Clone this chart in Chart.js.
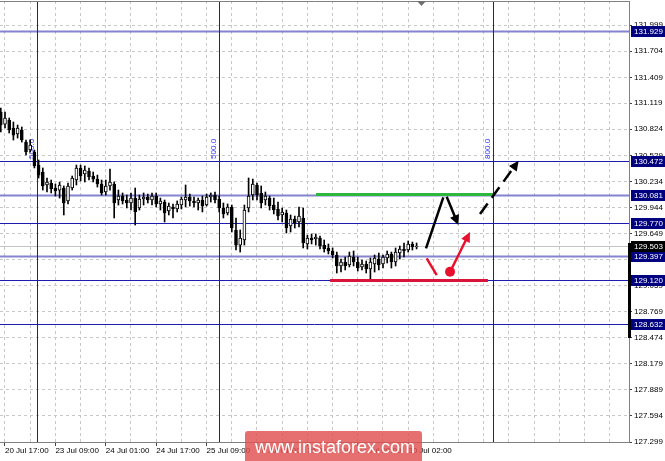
<!DOCTYPE html>
<html lang="en">
<head>
    <meta charset="UTF-8">
    <title>USDJPY H1</title>
    <script src="https://cdn.jsdelivr.net/npm/chart.js"></script>
    <style>
        html, body { margin: 0; padding: 0; background: #fff; }
        #wrap { width: 665px; height: 461px; position: relative; }
    </style>
</head>
<body>
<div id="wrap"><canvas id="priceChart"></canvas></div>
<script>
    // hourly candles, oldest first
    const opens = [
        131.019, 130.883, 130.928, 130.838, 130.771, 130.816, 130.680, 130.590, 130.568, 130.421,
        130.342, 130.196, 130.218, 130.162, 130.139, 130.162, 130.016, 130.162, 130.252, 130.388,
        130.320, 130.354, 130.297, 130.263, 130.207, 130.117, 130.185, 130.207, 130.027, 130.072,
        130.027, 129.993, 130.049, 129.937, 130.038, 130.061, 130.027, 130.072, 129.982, 130.004,
        129.903, 129.948, 129.925, 129.970, 130.027, 130.061, 130.016, 129.993, 130.027, 129.970,
        130.061, 130.083, 130.038, 129.937, 129.880, 129.948, 129.689, 129.519, 129.576, 129.937,
        130.083, 130.196, 130.106, 130.027, 130.049, 129.970, 129.925, 129.858, 129.880, 129.734,
        129.813, 129.779, 129.824, 129.531, 129.598, 129.587, 129.598, 129.519, 129.486, 129.452,
        129.407, 129.283, 129.328, 129.294, 129.384, 129.328, 129.272, 129.305, 129.249, 129.305,
        129.362, 129.305, 129.373, 129.418, 129.328, 129.429, 129.475, 129.463, 129.531, 129.497
    ];
    const highs = [
        131.064, 131.019, 130.951, 130.906, 130.872, 130.850, 130.703, 130.703, 130.590, 130.478,
        130.388, 130.275, 130.252, 130.207, 130.230, 130.185, 130.218, 130.297, 130.421, 130.421,
        130.410, 130.388, 130.342, 130.308, 130.252, 130.252, 130.376, 130.230, 130.139, 130.106,
        130.083, 130.106, 130.162, 130.083, 130.106, 130.094, 130.106, 130.106, 130.049, 130.027,
        129.993, 129.982, 130.016, 130.061, 130.196, 130.094, 130.061, 130.049, 130.072, 130.094,
        130.106, 130.117, 130.072, 129.993, 129.982, 129.970, 129.824, 129.689, 129.970, 130.275,
        130.263, 130.218, 130.185, 130.117, 130.072, 130.049, 130.004, 129.937, 129.914, 129.858,
        129.846, 129.948, 129.937, 129.632, 129.644, 129.644, 129.621, 129.576, 129.531, 129.486,
        129.440, 129.362, 129.384, 129.440, 129.452, 129.384, 129.350, 129.339, 129.373, 129.407,
        129.429, 129.407, 129.452, 129.440, 129.486, 129.508, 129.542, 129.565, 129.553, 129.542
    ];
    const lows = [
        130.793, 130.838, 130.782, 130.703, 130.725, 130.680, 130.534, 130.568, 130.388, 130.275,
        130.139, 130.117, 130.106, 130.072, 130.049, 129.858, 129.982, 130.139, 130.196, 130.241,
        130.230, 130.252, 130.230, 130.173, 130.083, 130.083, 130.139, 129.824, 129.970, 129.982,
        129.937, 129.914, 129.745, 129.914, 129.970, 129.993, 129.970, 129.948, 129.914, 129.779,
        129.858, 129.824, 129.892, 129.925, 129.948, 129.959, 129.948, 129.914, 129.892, 129.959,
        130.004, 129.993, 129.892, 129.824, 129.858, 129.666, 129.463, 129.440, 129.519, 129.892,
        130.027, 130.027, 129.937, 129.970, 129.914, 129.869, 129.801, 129.779, 129.655, 129.666,
        129.711, 129.722, 129.486, 129.475, 129.531, 129.519, 129.475, 129.440, 129.418, 129.373,
        129.204, 129.215, 129.238, 129.272, 129.283, 129.227, 129.238, 129.204, 129.136, 129.215,
        129.238, 129.260, 129.317, 129.260, 129.283, 129.362, 129.384, 129.440, 129.463, 129.475
    ];
    const closes = [
        130.872, 130.951, 130.816, 130.759, 130.838, 130.703, 130.568, 130.647, 130.410, 130.308,
        130.185, 130.230, 130.151, 130.128, 130.196, 129.993, 130.185, 130.275, 130.388, 130.297,
        130.365, 130.286, 130.263, 130.207, 130.106, 130.185, 130.230, 129.993, 130.072, 130.016,
        129.993, 130.049, 129.892, 130.038, 130.061, 130.027, 130.072, 129.982, 130.016, 129.880,
        129.959, 129.925, 129.982, 130.038, 130.061, 130.016, 129.993, 130.027, 129.959, 130.061,
        130.083, 130.027, 129.937, 129.869, 129.948, 129.711, 129.519, 129.598, 129.914, 130.072,
        130.207, 130.083, 129.993, 130.072, 129.959, 129.914, 129.846, 129.892, 129.711, 129.813,
        129.768, 129.846, 129.542, 129.598, 129.576, 129.610, 129.508, 129.475, 129.452, 129.407,
        129.283, 129.328, 129.283, 129.396, 129.328, 129.260, 129.305, 129.249, 129.328, 129.373,
        129.294, 129.384, 129.418, 129.328, 129.440, 129.475, 129.452, 129.531, 129.497, 129.503
    ];

    // axis labels
    const timeLabels = ['20 Jul 17:00', '23 Jul 09:00', '24 Jul 01:00', '24 Jul 17:00', '25 Jul 09:00',
                        '26 Jul 01:00', '26 Jul 17:00', '27 Jul 09:00', '30 Jul 02:00'];
    const priceTicks = [127.299, 127.594, 127.889, 128.179, 128.474, 128.769, 129.059, 129.354, 129.649,
                        129.944, 130.234, 130.529, 130.824, 131.119, 131.409, 131.704, 131.999];

    // horizontal levels, the current bid, vertical time lines
    const levelPrices = [131.929, 130.472, 130.081, 129.770, 129.397, 129.120, 128.632];
    const levelStrong = [false, true, false, true, false, true, true];
    const bidPrice = 129.503;
    const vlineBars = [8.6, 52, 117.2];
    const vlineCaptions = ['500.0', '500.0', '800.0'];

    // forecast drawing: [bar, price] points
    const greenZone = [[75.05, 130.09], [117.2, 130.09]];
    const redZone = [[78.4, 129.12], [116.0, 129.12]];
    const blackUp = [[101.24, 129.482], [105.36, 130.057]];
    const blackDown = [[106.17, 130.064], [108.93, 129.745]];
    const blackBreak = [[114.1, 129.869], [123.3, 130.47]];
    const redDip = [[101.4, 129.370], [103.8, 129.181]];
    const redDot = [106.96, 129.219];
    const redUp = [[107.43, 129.260], [111.7, 129.666]];

    const BAR_PX = 4.2;
    const X_MIN = -0.19;
    const TICK_STEP = 12;

    const idx = opens.map((_, i) => i);
    const wickData = idx.map(i => ({ x: i, y: [lows[i], highs[i]] }));
    const bodyData = idx.map(i => ({ x: i, y: [Math.min(opens[i], closes[i]), Math.max(opens[i], closes[i])] }));
    const bodyFill = idx.map(i => closes[i] >= opens[i] ? '#ffffff' : '#000000');

    function arrowLine(ctx, xs, ys, pts, color, width, dash, head) {
        const p = pts.map(q => [xs.getPixelForValue(q[0]), ys.getPixelForValue(q[1])]);
        ctx.save();
        ctx.strokeStyle = color;
        ctx.fillStyle = color;
        ctx.lineWidth = width;
        ctx.setLineDash(dash || []);
        let end = p[1];
        const ang = Math.atan2(p[1][1] - p[0][1], p[1][0] - p[0][0]);
        if (head) end = [p[1][0] - Math.cos(ang) * 7, p[1][1] - Math.sin(ang) * 7];
        ctx.beginPath();
        ctx.moveTo(p[0][0], p[0][1]);
        ctx.lineTo(end[0], end[1]);
        ctx.stroke();
        ctx.setLineDash([]);
        if (head) {
            ctx.beginPath();
            ctx.moveTo(p[1][0], p[1][1]);
            ctx.lineTo(p[1][0] - Math.cos(ang - 0.45) * 11, p[1][1] - Math.sin(ang - 0.45) * 11);
            ctx.lineTo(p[1][0] - Math.cos(ang + 0.45) * 11, p[1][1] - Math.sin(ang + 0.45) * 11);
            ctx.closePath();
            ctx.fill();
        }
        ctx.restore();
    }

    const mtObjects = {
        id: 'mtObjects',
        beforeDatasetsDraw(chart) {
            const { ctx, chartArea: a, scales: { x, y } } = chart;
            ctx.save();
            // bid line
            let py = Math.round(y.getPixelForValue(bidPrice)) + 0.5;
            ctx.strokeStyle = '#c4c4c4';
            ctx.lineWidth = 1;
            ctx.beginPath(); ctx.moveTo(a.left, py); ctx.lineTo(a.right, py); ctx.stroke();
            // levels
            levelPrices.forEach((v, i) => {
                py = Math.round(y.getPixelForValue(v)) + 0.5;
                ctx.strokeStyle = levelStrong[i] ? '#1c1cb0' : 'rgba(110, 110, 200, 0.85)';
                ctx.lineWidth = levelStrong[i] ? 1 : 2;
                ctx.beginPath(); ctx.moveTo(a.left, py); ctx.lineTo(a.right, py); ctx.stroke();
            });
            // vertical lines
            ctx.font = '8px "Liberation Sans", Arial, sans-serif';
            vlineBars.forEach((b, i) => {
                const px = Math.round(x.getPixelForValue(b)) + 0.5;
                ctx.strokeStyle = '#1010ff';
                ctx.lineWidth = 1;
                ctx.beginPath(); ctx.moveTo(px, a.top); ctx.lineTo(px, a.bottom); ctx.stroke();
                ctx.save();
                ctx.translate(px - 2, y.getPixelForValue(130.49));
                ctx.rotate(-Math.PI / 2);
                ctx.fillStyle = '#3030ff';
                ctx.textAlign = 'left';
                ctx.textBaseline = 'bottom';
                ctx.fillText(vlineCaptions[i], 0, 0);
                ctx.restore();
            });
            ctx.restore();
        },
        afterDatasetsDraw(chart) {
            const { ctx, scales: { x, y } } = chart;
            arrowLine(ctx, x, y, greenZone, '#2db83d', 3, null, false);
            arrowLine(ctx, x, y, redZone, '#d8143a', 3, null, false);
            arrowLine(ctx, x, y, blackUp, '#000', 2.5, null, false);
            arrowLine(ctx, x, y, blackDown, '#000', 2.5, null, true);
            arrowLine(ctx, x, y, blackBreak, '#000', 2.5, [13, 7], true);
            arrowLine(ctx, x, y, redDip, '#e8112d', 2.5, null, false);
            arrowLine(ctx, x, y, redUp, '#e8112d', 2.5, null, true);
            ctx.save();
            ctx.fillStyle = '#e8112d';
            ctx.beginPath();
            ctx.arc(x.getPixelForValue(redDot[0]), y.getPixelForValue(redDot[1]), 5, 0, Math.PI * 2);
            ctx.fill();
            ctx.restore();
        },
        afterDraw(chart) {
            const { ctx, chartArea: a, scales: { y }, width, height } = chart;
            ctx.save();
            // frame top
            ctx.strokeStyle = '#808080';
            ctx.lineWidth = 1;
            ctx.beginPath(); ctx.moveTo(a.left, a.top + 0.5); ctx.lineTo(a.right + 0.5, a.top + 0.5); ctx.stroke();
            // shift marker
            ctx.fillStyle = '#707070';
            ctx.beginPath(); ctx.moveTo(417, a.top); ctx.lineTo(426, a.top); ctx.lineTo(421.5, a.top + 5); ctx.closePath(); ctx.fill();
            // price scale bar
            ctx.fillStyle = '#000';
            const t = y.getPixelForValue(129.542), b = y.getPixelForValue(128.471);
            ctx.fillRect(a.right - 1, t, 3, b - t);
            // price boxes
            ctx.font = '8px "Liberation Sans", Arial, sans-serif';
            ctx.textBaseline = 'middle';
            ctx.textAlign = 'left';
            const box = (v, fill) => {
                const py = Math.round(y.getPixelForValue(v));
                ctx.fillStyle = fill;
                ctx.fillRect(a.right + 2, py - 5, width - a.right - 2, 11);
                ctx.fillStyle = '#fff';
                ctx.fillText(v.toFixed(3), a.right + 5, py + 0.5);
            };
            levelPrices.forEach(v => box(v, '#000080'));
            box(bidPrice, '#000000');
            // watermark
            ctx.fillStyle = 'rgba(224, 80, 80, 0.82)';
            ctx.beginPath();
            ctx.roundRect(245, 431, 177, height - 431 + 4, 3);
            ctx.fill();
            ctx.fillStyle = '#fff';
            ctx.font = '18px "Liberation Sans", Arial, sans-serif';
            ctx.textBaseline = 'alphabetic';
            ctx.fillText('www.instaforex.com', 255, 453);
            ctx.restore();
        }
    };

    Chart.defaults.font.family = '"Liberation Sans", Arial, sans-serif';
    Chart.defaults.font.size = 8;
    Chart.defaults.color = '#000';

    const ctx = document.getElementById('priceChart').getContext('2d');
    new Chart(ctx, {
        type: 'bar',
        data: {
            datasets: [
                {
                    data: wickData,
                    backgroundColor: '#000',
                    barThickness: 1,
                    grouped: false,
                    order: 2
                },
                {
                    data: bodyData,
                    backgroundColor: bodyFill,
                    borderColor: '#000',
                    borderWidth: 1,
                    borderSkipped: false,
                    barThickness: 3,
                    minBarLength: 1,
                    grouped: false,
                    order: 1
                }
            ]
        },
        options: {
            responsive: true,
            maintainAspectRatio: false,
            animation: false,
            events: [],
            layout: { padding: { left: 0, right: 0, top: 1, bottom: 0 } },
            plugins: { legend: { display: false }, tooltip: { enabled: false } },
            scales: {
                x: {
                    type: 'linear',
                    offset: false,
                    min: X_MIN,
                    max: X_MIN + 629 / BAR_PX,
                    grid: {
                        offset: false,
                        color: '#c8c8c8',
                        tickLength: 4,
                        tickColor: c => (c.index % 2 === 0 && c.index / 2 < timeLabels.length) ? '#404040' : 'rgba(0,0,0,0)'
                    },
                    border: { display: true, color: '#808080', dash: [3, 3] },
                    ticks: {
                        autoSkip: false,
                        maxRotation: 0,
                        align: 'start',
                        padding: 0,
                        callback: (v, i) => (i % 2 === 0 && timeLabels[i / 2]) ? timeLabels[i / 2] : ''
                    },
                    afterBuildTicks: s => {
                        const t = [];
                        for (let v = 1; v <= s.max; v += TICK_STEP / 2) t.push({ value: v });
                        s.ticks = t;
                    },
                    afterFit: s => { s.height = 19; s.paddingLeft = 0; s.paddingRight = 0; }
                },
                y: {
                    type: 'linear',
                    position: 'right',
                    min: 127.299,
                    max: 132.27,
                    grid: { color: '#c8c8c8', tickLength: 3, tickColor: '#404040' },
                    border: { display: true, color: '#808080', dash: [3, 3] },
                    ticks: {
                        padding: 2,
                        callback: v => v.toFixed(3)
                    },
                    afterBuildTicks: s => { s.ticks = priceTicks.map(v => ({ value: v })); },
                    afterFit: s => { s.width = 36; s.paddingTop = 0; s.paddingBottom = 0; }
                }
            }
        },
        plugins: [mtObjects]
    });
</script>
</body>
</html>
